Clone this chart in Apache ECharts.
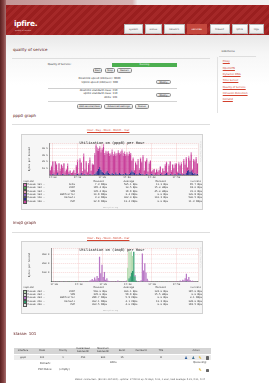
<!DOCTYPE html>
<html>
<head>
<meta charset="utf-8">
<title>ipfire - quality of service</title>
<script src="https://cdn.jsdelivr.net/npm/echarts@6.0.0/dist/echarts.min.js"></script>
<style>
  html, body { margin: 0; padding: 0; }
  body { width: 269px; height: 383px; overflow: hidden; position: relative; background: #fff;
         font-family: "DejaVu Sans", Verdana, sans-serif; color: #333; }
  .a { position: absolute; white-space: nowrap; line-height: 1; }
  .t2 { font-size: 2.6px; }
  .h { font-size: 4px; color: #5c1414; }
  .tab { position: absolute; top: 24px; height: 10px; background: linear-gradient(#fff, #e9e9e9); border: 0.5px solid #b9b9b9;
         box-sizing: border-box; font-size: 2.5px; color: #555; text-align: center; line-height: 9px; }
  .tab.on { background: #c4473d; color: #fff; border-color: #c4473d; }
  .btn { position: absolute; box-sizing: border-box; border: 0.5px solid #8a8a8a; border-radius: 1.6px;
         background: linear-gradient(#fcfcfc, #d9d9d9); font-size: 2.4px; text-align: center; color: #222; white-space: nowrap; }
  .rule { position: absolute; height: 0; border-top: 0.6px solid #dedede; }
  .lnk { color: #d2402c; text-decoration: underline; font-size: 2.6px; }
  .box { position: absolute; background: #f6f6f6; border: 0.5px solid #d2d2d2; box-sizing: border-box; }
  .mono { font-family: "DejaVu Sans Mono", monospace; font-size: 2.5px; color: #333; }
  .graph { position: absolute; width: 184px; height: 50px; }
</style>
</head>
<body>

<!-- page frame -->
<div class="a" style="left:6px;top:35px;width:263px;height:348px;background:linear-gradient(#e8e8e8 0,#f6f6f6 18px,#fff 50px);"></div>
<div class="a" style="left:6px;top:0;width:263px;height:5px;background:linear-gradient(90deg,#c39595 0,#d6b3b3 48%,#eeeaea 50%,#f3f1f1 100%);"></div>
<div class="a" style="left:0;top:0;width:6px;height:383px;background:linear-gradient(90deg,#5a2020,#844343 60%,#a86f6f);"></div>

<!-- header -->
<div class="a" style="left:6px;top:5px;width:263px;height:30px;background:repeating-linear-gradient(135deg,#9a1f1f 0,#9a1f1f 3px,#a52828 3px,#a52828 6px);"></div>
<div class="a" style="left:14px;top:20px;font-size:7.5px;font-weight:bold;color:#fff;letter-spacing:-0.3px;">ipfire.</div>
<div class="a" style="left:15px;top:30.3px;font-size:1.9px;color:#f3dada;">quality of service</div>

<div class="tab" style="left:124px;width:19px;">system</div>
<div class="tab" style="left:144.5px;width:17.5px;">status</div>
<div class="tab" style="left:163.5px;width:21px;">network</div>
<div class="tab on" style="left:186.5px;width:20.5px;">services</div>
<div class="tab" style="left:209.5px;width:20px;">firewall</div>
<div class="tab" style="left:231.5px;width:16px;">ipfire</div>
<div class="tab" style="left:249px;width:14.5px;">logs</div>

<!-- sidebar -->
<div class="a" style="left:221.5px;top:50.2px;font-size:2.7px;color:#333;">sidemenu</div>
<div class="rule" style="left:219px;top:55.5px;width:37px;"></div>
<div class="a" style="left:216.5px;top:57px;width:0;height:56px;border-left:0.5px solid #e2e2e2;"></div>
<div class="a lnk" style="left:222.7px;top:60.9px;">Proxy</div>
<div class="a lnk" style="left:222.7px;top:67.6px;">OpenVPN</div>
<div class="a lnk" style="left:222.7px;top:74.3px;">Dynamic DNS</div>
<div class="a lnk" style="left:222.7px;top:80.3px;">Time Server</div>
<div class="a lnk" style="left:222.7px;top:86.9px;">Quality of Service</div>
<div class="a lnk" style="left:222.7px;top:92.9px;">Intrusion Detection</div>
<div class="a lnk" style="left:222.7px;top:99.3px;">Extrahd</div>

<!-- quality of service panel -->
<div class="a h" style="left:13px;top:47.5px;">quality of service</div>
<div class="rule" style="left:12px;top:58.3px;width:198px;"></div>

<div class="a t2" style="left:47.7px;top:64px;">Quality of Service:</div>
<div class="a" style="left:112.3px;top:63.3px;width:64.4px;height:4px;background:#4caf50;color:#fff;font-size:2.4px;text-align:center;line-height:4px;">Running</div>
<div class="btn" style="left:92.7px;top:67.9px;width:9.8px;height:4.8px;line-height:4.4px;">Start</div>
<div class="btn" style="left:104.7px;top:67.9px;width:10.6px;height:4.8px;line-height:4.4px;">Stop</div>
<div class="btn" style="left:117.3px;top:67.9px;width:14.4px;height:4.8px;line-height:4.4px;">Restart</div>

<div class="a t2" style="right:148.5px;top:78.2px;">Downlink speed (kbit/sec): 9600</div>
<div class="a t2" style="right:151px;top:82.3px;">Uplink speed (kbit/sec): 900</div>
<div class="btn" style="left:156px;top:80px;width:14.7px;height:4.4px;line-height:4px;">Modify</div>
<div class="a" style="left:47.7px;top:87.8px;width:129px;height:0.9px;background:#cfcfcf;"></div>
<div class="a t2" style="right:151.5px;top:89.5px;">downlink standard class: 210</div>
<div class="a t2" style="right:151.5px;top:93.2px;">uplink standard class: 110</div>
<div class="a t2" style="right:151.5px;top:96.7px;">ACKs: 101</div>
<div class="btn" style="left:156px;top:92.7px;width:14.7px;height:4.6px;line-height:4.2px;">Modify</div>
<div class="a" style="left:47.7px;top:101px;width:129px;height:0.8px;background:#d4d4d4;"></div>
<div class="btn" style="left:76.7px;top:104px;width:25.6px;height:5px;line-height:4.6px;">Add service/class</div>
<div class="btn" style="left:104px;top:104px;width:29.3px;height:5px;line-height:4.6px;">Advanced settings</div>
<div class="btn" style="left:135px;top:104px;width:13.7px;height:5px;line-height:4.6px;">Status</div>

<!-- ppp0 graph -->
<div class="a h" style="left:13px;top:114px;">ppp0 graph</div>
<div class="rule" style="left:12px;top:124px;width:198px;"></div>
<div class="a lnk" style="left:87px;top:129.7px;font-size:2.6px;">Hour - Day - Week - Month - Year</div>
<div class="box" style="left:20.5px;top:133.5px;width:182.5px;height:76.5px;"></div>
<div id="ppp0" class="graph" style="left:20px;top:133px;"></div>
<div class="a" style="left:199.2px;top:141px;font-size:1.6px;color:#bdbdbd;writing-mode:vertical-rl;">RRDTOOL / TOBI OETIKER</div>
<div id="ppp0Legend"></div>
<div class="a mono" style="left:103px;top:207px;font-size:1.8px;color:#aaa;">www.ipfire.org</div>

<!-- imq0 graph -->
<div class="a h" style="left:13px;top:221px;">imq0 graph</div>
<div class="rule" style="left:12px;top:231.7px;width:198px;"></div>
<div class="a lnk" style="left:87px;top:237.7px;font-size:2.6px;">Hour - Day - Week - Month - Year</div>
<div class="box" style="left:20.5px;top:241px;width:182.5px;height:72.5px;"></div>
<div id="imq0" class="graph" style="left:20px;top:240px;"></div>
<div class="a" style="left:199.2px;top:247px;font-size:1.6px;color:#bdbdbd;writing-mode:vertical-rl;">RRDTOOL / TOBI OETIKER</div>
<div id="imq0Legend"></div>
<div class="a mono" style="left:103px;top:310.2px;font-size:1.8px;color:#aaa;">www.ipfire.org</div>

<!-- class table -->
<div class="a h" style="left:13.5px;top:332px;">klasse: 101</div>
<div class="a" style="left:14px;top:347.7px;width:196.7px;height:6.5px;background:#d5d5d5;"></div>
<div class="a" style="left:14px;top:355.3px;width:196.7px;height:4.9px;background:#ececec;"></div>
<div id="classTable"></div>
<div class="a" style="left:184.3px;top:355.8px;font-size:4px;color:#2f5d9a;">♟</div>
<div class="a" style="left:191.5px;top:355.8px;font-size:4px;color:#3d6e8f;">♟</div>
<div class="a" style="left:198.5px;top:355.8px;font-size:3.8px;color:#d9a400;">✎</div>
<div class="a" style="left:205.5px;top:356.4px;width:3px;height:3.4px;background:#666;border-radius:0.4px;"></div>
<div class="a t2" style="left:40px;top:362.8px;">Remark:</div>
<div class="a t2" style="left:110px;top:362.2px;">ACKs</div>
<div class="a t2" style="left:193.3px;top:362.2px;">Queueing:</div>
<div class="a t2" style="left:38.3px;top:369.4px;">Port Rules:</div>
<div class="a t2" style="left:59.3px;top:369.4px;">(empty)</div>
<div class="a" style="left:198.5px;top:368.4px;font-size:3.8px;color:#d9a400;">✎</div>
<div class="a" style="left:205.5px;top:368.8px;width:3px;height:3.4px;background:#666;border-radius:0.4px;"></div>

<div class="a" style="left:140px;top:379.2px;transform:translateX(-50%);font-size:2.3px;color:#555;">status: connected - (62.121.194.210) - uptime: 17:09:31 up 42 days, 5:31, 1 user, load average: 0.22, 0.21, 0.17</div>

<script>
// time axis: one sample every 30 s, 16:59:00 .. 17:58:30
const times = [];
for (let s = 0; s < 120; s++) {
    const t = 16 * 3600 + 59 * 60 + s * 30;
    const hh = String(Math.floor(t / 3600)).padStart(2, '0');
    const mm = String(Math.floor(t / 60) % 60).padStart(2, '0');
    const ss = String(t % 60).padStart(2, '0');
    times.push(hh + ':' + mm + ':' + ss);
}
const tickLabels = ['17:00', '17:10', '17:20', '17:30', '17:40', '17:50'];

// ppp0 (upload), k bytes per second
const ppp0P2P = [
    6, 12, 18, 3, 20, 14, 2, 17, 5, 15,
    9, 16, 4, 7, 14, 2, 5, 3, 4, 6,
    3, 12, 18, 2, 22, 15, 4, 27, 6, 19,
    3, 16, 21, 5, 15, 14, 28, 40, 31, 27,
    29, 26, 33, 39, 28, 30, 26, 31, 27, 29,
    32, 27, 30, 25, 29, 33, 28, 30, 35, 27,
    31, 26, 29, 28, 30, 27, 14, 19, 4, 17,
    13, 20, 5, 22, 18, 25, 6, 19, 21, 4,
    17, 20, 3, 6, 9, 2, 8, 4, 7, 10,
    2, 9, 5, 12, 16, 3, 14, 18, 4, 15,
    9, 13, 17, 3, 14, 12, 16, 2, 19, 14,
    22, 5, 18, 16, 24, 4, 20, 17, 23, 15
];
const ppp0Default = [
    1, 0, 2, 1, 0, 1, 3, 0, 1, 0,
    2, 1, 0, 1, 0, 2, 1, 0, 0, 1,
    0, 1, 2, 0, 1, 3, 0, 1, 2, 0,
    1, 0, 2, 1, 0, 1, 2, 4, 6, 9,
    12, 8, 5, 3, 2, 4, 6, 3, 2, 1,
    3, 2, 1, 4, 2, 1, 3, 2, 1, 2,
    1, 3, 2, 1, 2, 4, 7, 5, 3, 1,
    2, 1, 3, 2, 1, 2, 0, 1, 2, 1,
    0, 1, 2, 1, 0, 1, 0, 1, 0, 2,
    1, 0, 1, 2, 3, 1, 0, 2, 1, 0,
    1, 2, 0, 1, 3, 2, 1, 0, 2, 1,
    3, 6, 8, 5, 7, 4, 2, 3, 1, 2
];
const ppp0Acks = [
    1, 2, 1, 3, 1, 2, 2, 1, 3, 1,
    2, 1, 2, 1, 3, 1, 1, 0, 1, 1,
    0, 2, 3, 1, 2, 1, 2, 4, 1, 2,
    1, 2, 3, 1, 2, 1, 3, 2, 4, 3,
    2, 3, 2, 4, 3, 2, 3, 2, 3, 2,
    3, 2, 4, 3, 2, 3, 2, 3, 2, 4,
    3, 2, 3, 2, 3, 2, 1, 2, 1, 2,
    1, 3, 2, 2, 1, 3, 2, 1, 2, 1,
    2, 1, 1, 1, 0, 1, 1, 0, 1, 1,
    1, 1, 0, 2, 1, 1, 2, 1, 2, 1,
    1, 2, 1, 1, 2, 1, 2, 1, 3, 2,
    2, 1, 2, 2, 3, 1, 2, 2, 3, 1
];
const ppp0VoIP = [];
const ppp0VPN = [];
const ppp0Web = [];

// imq0 (download), k bytes per second
const imq0Web = [
    0, 0, 1, 0, 0, 2, 0, 0, 1, 0,
    0, 3, 0, 0, 1, 0, 0, 0, 2, 0,
    0, 1, 0, 0, 0, 4, 0, 1, 0, 0,
    2, 8, 15, 30, 12, 45, 25, 60, 40, 266,
    90, 185, 50, 106, 20, 35, 10, 8, 4, 2,
    0, 5, 0, 3, 12, 0, 2, 0, 6, 0,
    4, 10, 0, 0, 0, 0, 0, 0, 12, 5,
    3, 0, 8, 15, 302, 120, 200, 100, 30, 10,
    5, 0, 3, 0, 2, 0, 0, 1, 0, 0,
    2, 0, 0, 1, 0, 3, 0, 0, 2, 0,
    0, 1, 4, 0, 2, 10, 6, 20, 15, 35,
    80, 25, 50, 18, 6, 10, 3, 0, 2, 0
];
const imq0VoIP = [
    0, 0, 0, 0, 0, 0, 0, 0, 0, 0,
    0, 0, 0, 0, 0, 0, 0, 0, 0, 0,
    0, 0, 0, 0, 0, 0, 0, 0, 0, 0,
    0, 0, 0, 0, 0, 0, 0, 0, 0, 0,
    0, 0, 0, 0, 0, 0, 0, 0, 0, 0,
    0, 0, 0, 0, 0, 0, 0, 0, 0, 0,
    0, 0, 150, 300, 260, 230, 160, 0, 0, 0,
    0, 0, 0, 0, 0, 0, 0, 0, 0, 0,
    0, 0, 0, 0, 0, 0, 0, 0, 0, 0,
    0, 0, 0, 0, 0, 0, 0, 0, 0, 0,
    0, 0, 0, 0, 0, 0, 0, 0, 0, 0,
    0, 0, 0, 0, 0, 0, 0, 0, 0, 0
];
const imq0Default = [
    1, 0, 0, 2, 0, 0, 1, 0, 0, 0,
    2, 0, 0, 0, 1, 0, 0, 0, 0, 1,
    2, 0, 0, 1, 0, 0, 0, 0, 1, 0,
    0, 1, 0, 0, 2, 0, 0, 3, 0, 5,
    2, 0, 1, 0, 0, 2, 0, 0, 1, 0,
    0, 0, 1, 0, 0, 0, 2, 0, 0, 1,
    0, 2, 0, 37, 60, 100, 120, 326, 60, 8,
    0, 1, 0, 0, 4, 2, 0, 0, 1, 0,
    0, 0, 1, 0, 0, 0, 1, 0, 0, 0,
    1, 0, 0, 0, 2, 0, 0, 1, 0, 0,
    0, 0, 1, 0, 0, 2, 0, 1, 0, 3,
    5, 0, 2, 0, 0, 1, 0, 0, 0, 1
];
const imq0VPN = [];
const imq0P2P = [];

// legend tables
const ppp0Captions = ['Klasse 101 -', 'Klasse 102 -', 'Klasse 103 -', 'Klasse 104 -', 'Klasse 110 -', 'Klasse 120 -'];
const ppp0Names = ['ACKs', 'VoIP', 'VPN', 'WebTraffic', 'Default', 'P2P'];
const ppp0Colors = ['#dc7cbc', '#5aa55a', '#e79ab0', '#8f62c4', '#2f2f8f', '#c9419b'];
const ppp0Max = ['7.3 KBps', '195.4 Bps', '135.4 Bps', '14.9 KBps', '3.0 KBps', '22.9 KBps'];
const ppp0Avg = ['505.1 Bps', '10.5 Bps', '19.9 Bps', '2.4 KBps', '462.4 Bps', '12.4 KBps'];
const ppp0Min = ['11.2 Bps', '15.0 mBps', '45.0 mBps', '0.0 Bps', '161.3 Bps', '0.0 Bps'];
const ppp0Cur = ['95.7 Bps', '18.6 Bps', '31.6 Bps', '120.8 Bps', '506.5 Bps', '11.3 KBps'];

const imq0Captions = ['Klasse 202 -', 'Klasse 203 -', 'Klasse 204 -', 'Klasse 210 -', 'Klasse 220 -'];
const imq0Names = ['VoIP', 'VPN', 'WebTraffic', 'Default', 'P2P'];
const imq0Colors = ['#b5dbb0', '#d8d8d8', '#b978c6', '#2c9b6c', '#e6e6e6'];
const imq0Max = ['560.0 Bps', '335.0 Bps', '289.7 KBps', '302.1 KBps', '303.5 KBps'];
const imq0Avg = ['406.1 Bps', '59.9 Bps', '5.9 KBps', '4.1 KBps', '4.0 KBps'];
const imq0Min = ['124.0 Bps', '15.5 mBps', '0.0 Bps', '12.3 Bps', '0.0 Bps'];
const imq0Cur = ['187.0 Bps', '0.0 Bps', '0.1 KBps', '209.0 Bps', '193.5 Bps'];

// class table
const tableHeads = ['Interface', 'Class', 'Priority', 'Guaranteed<br>bandwidth', 'Maximum<br>bandwidth', 'Burst', 'Ceil Burst', 'TOS', 'Action'];
const tableRow = ['ppp0', '101', '1', '450', '900', '15', '', '8', ''];
const tableCols = [23, 42, 63, 83, 103, 122, 141, 161, 196];

const isTick = (idx, val) => val.endsWith(':00') && tickLabels.includes(val.slice(0, 5));

function drawGraph(domId, cfg) {
    const chart = echarts.init(document.getElementById(domId));
    chart.setOption({
        animation: false,
        title: {
            text: cfg.title, left: 'center', top: cfg.titleTop,
            textStyle: { fontFamily: 'DejaVu Sans Mono', fontSize: 3.6, fontWeight: 'normal', color: '#111' }
        },
        grid: { left: 17, top: cfg.gridTop, width: 161, height: cfg.gridHeight, show: true, backgroundColor: '#fff', borderWidth: 0 },
        xAxis: {
            type: 'category',
            data: times,
            boundaryGap: true,
            axisLine: { lineStyle: { color: '#333', width: 0.5 } },
            axisTick: { show: false },
            axisLabel: {
                interval: isTick,
                formatter: v => v.slice(0, 5),
                fontFamily: 'DejaVu Sans Mono', fontSize: 2.5, color: '#333', margin: 1.3
            },
            splitLine: { show: true, interval: isTick, lineStyle: { color: 'rgba(225,100,100,0.55)', width: 0.5, type: [1, 1] } }
        },
        yAxis: {
            type: 'value',
            min: 0,
            max: cfg.max,
            interval: cfg.step,
            name: 'Bytes per Second',
            nameLocation: 'middle',
            nameGap: 9.5,
            nameTextStyle: { fontFamily: 'DejaVu Sans Mono', fontSize: 2.5, color: '#333' },
            axisLine: { show: true, lineStyle: { color: '#333', width: 0.5 } },
            axisTick: { show: false },
            axisLabel: {
                formatter: v => (v === 0 ? '' : v + ' k'),
                showMaxLabel: false,
                fontFamily: 'DejaVu Sans Mono', fontSize: 2.5, color: '#333', margin: 1.8
            },
            splitLine: { lineStyle: { color: 'rgba(225,100,100,0.5)', width: 0.5, type: [1, 1] } },
            minorSplitLine: { show: true, lineStyle: { color: '#ececec', width: 0.4 } },
            minorTick: { splitNumber: 2 }
        },
        series: cfg.series.map(s => ({
            type: 'bar',
            name: s.name,
            stack: 'rate',
            data: s.data,
            barCategoryGap: '0%',
            itemStyle: { color: s.color },
            silent: true
        }))
    });
}

function buildLegend(holderId, top, step, rows) {
    const holder = document.getElementById(holderId);
    const put = (html, style) => {
        const d = document.createElement('div');
        d.className = 'a mono';
        d.style.cssText = style;
        d.innerHTML = html;
        holder.appendChild(d);
    };
    const heads = [['Caption', 'left:23.5px'], ['Maximal', 'right:165px'], ['Average', 'right:135px'],
                   ['Minimal', 'right:103px'], ['Current', 'right:68px']];
    heads.forEach(h => put(h[0], h[1] + ';top:' + (top - 1.25) + 'px;'));
    rows.captions.forEach((cap, i) => {
        const y = top + step * (i + 1) - 1.25;
        put('', 'left:23.5px;top:' + (y + 0.1) + 'px;width:2.1px;height:2.1px;background:' + rows.colors[i] + ';outline:0.3px solid #555;');
        put(cap, 'left:26.6px;top:' + y + 'px;');
        put(rows.names[i], 'right:194px;top:' + y + 'px;');
        put(rows.max[i], 'right:162px;top:' + y + 'px;');
        put(rows.avg[i], 'right:131.5px;top:' + y + 'px;');
        put(rows.min[i], 'right:101px;top:' + y + 'px;');
        put(rows.cur[i], 'right:67px;top:' + y + 'px;');
    });
}

function buildTable() {
    const holder = document.getElementById('classTable');
    tableHeads.forEach((h, i) => {
        const d = document.createElement('div');
        d.className = 'a';
        d.style.cssText = 'left:' + tableCols[i] + 'px;top:' + (h.includes('<br>') ? 348.3 : 349.7) + 'px;transform:translateX(-50%);font-size:2.3px;line-height:2.5px;text-align:center;color:#333;';
        d.innerHTML = h;
        holder.appendChild(d);
    });
    tableRow.forEach((v, i) => {
        const d = document.createElement('div');
        d.className = 'a';
        d.style.cssText = 'left:' + tableCols[i] + 'px;top:356.6px;transform:translateX(-50%);font-size:2.4px;color:#333;';
        d.textContent = v;
        holder.appendChild(d);
    });
}

drawGraph('ppp0', {
    title: 'Utilization on (ppp0) per Hour',
    titleTop: 2.6,
    gridTop: 10.5,
    gridHeight: 31.5,
    max: 47,
    step: 10,
    series: [
        { name: 'Klasse 110 - Default', data: ppp0Default, color: ppp0Colors[4] },
        { name: 'Klasse 120 - P2P', data: ppp0P2P, color: ppp0Colors[5] },
        { name: 'Klasse 101 - ACKs', data: ppp0Acks, color: ppp0Colors[0] },
        { name: 'Klasse 102 - VoIP', data: ppp0VoIP, color: ppp0Colors[1] },
        { name: 'Klasse 103 - VPN', data: ppp0VPN, color: ppp0Colors[2] },
        { name: 'Klasse 104 - WebTraffic', data: ppp0Web, color: ppp0Colors[3] }
    ]
});

drawGraph('imq0', {
    title: 'Utilization on (imq0) per Hour',
    titleTop: 2.8,
    gridTop: 8.5,
    gridHeight: 33.2,
    max: 360,
    step: 100,
    series: [
        { name: 'Klasse 210 - Default', data: imq0Default, color: imq0Colors[3] },
        { name: 'Klasse 202 - VoIP', data: imq0VoIP, color: imq0Colors[0] },
        { name: 'Klasse 204 - WebTraffic', data: imq0Web, color: imq0Colors[2] },
        { name: 'Klasse 203 - VPN', data: imq0VPN, color: imq0Colors[1] },
        { name: 'Klasse 220 - P2P', data: imq0P2P, color: imq0Colors[4] }
    ]
});

buildLegend('ppp0Legend', 181.8, 3.37, {
    captions: ppp0Captions, names: ppp0Names, colors: ppp0Colors,
    max: ppp0Max, avg: ppp0Avg, min: ppp0Min, cur: ppp0Cur
});
buildLegend('imq0Legend', 288.6, 3.3, {
    captions: imq0Captions, names: imq0Names, colors: imq0Colors,
    max: imq0Max, avg: imq0Avg, min: imq0Min, cur: imq0Cur
});
buildTable();
</script>
</body>
</html>
